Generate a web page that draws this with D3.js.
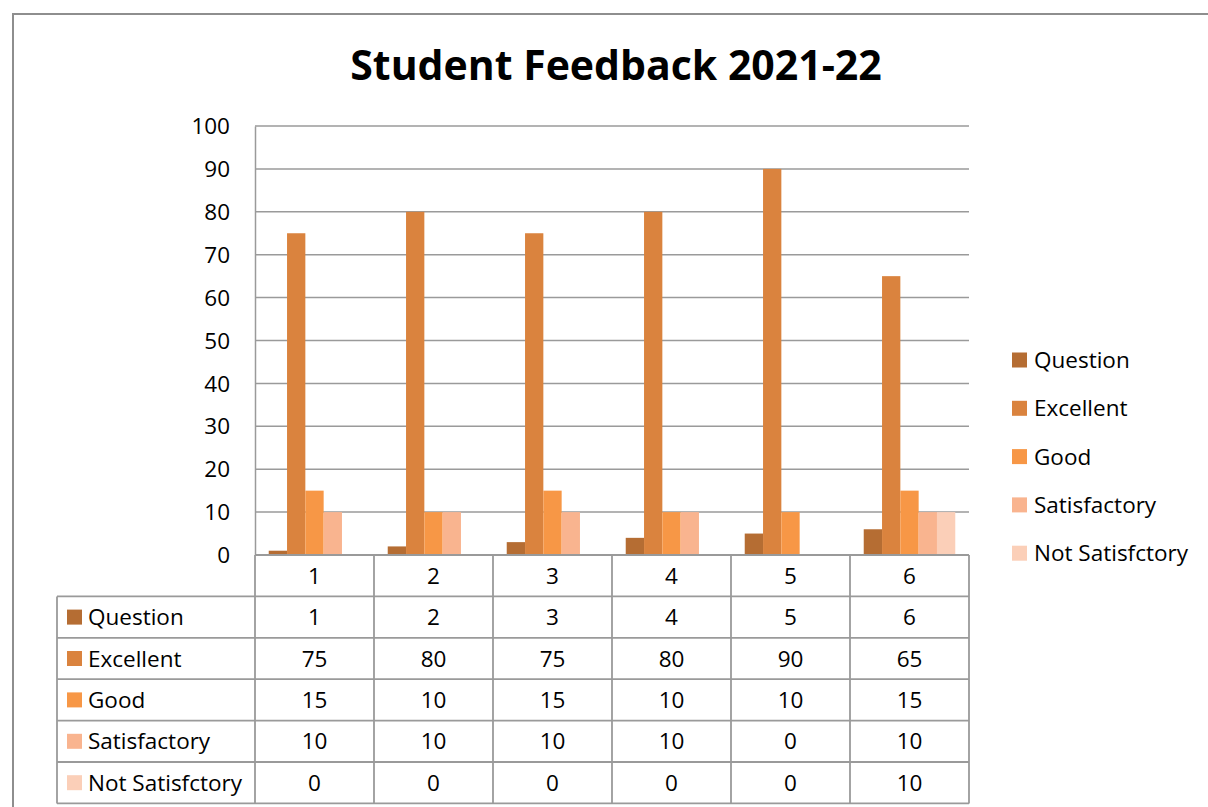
<!DOCTYPE html>
<html>
<head>
<meta charset="utf-8">
<script src="https://cdn.jsdelivr.net/npm/d3@7"></script>
<style>
  html, body { margin: 0; padding: 0; background: #fff; }
  svg { display: block; font-family: "Open Sans", Lato, sans-serif; }
</style>
</head>
<body>
<div id="chart"></div>
<script>
  // Datos del gráfico
  const categories = ['1', '2', '3', '4', '5', '6'];
  const seriesNames = ['Question', 'Excellent', 'Good', 'Satisfactory', 'Not Satisfctory'];
  const question = [1, 2, 3, 4, 5, 6];
  const excellent = [75, 80, 75, 80, 90, 65];
  const good = [15, 10, 15, 10, 10, 15];
  const satisfactory = [10, 10, 10, 10, 0, 10];
  const notSatisfactory = [0, 0, 0, 0, 0, 10];
  const yTicks = [0, 10, 20, 30, 40, 50, 60, 70, 80, 90, 100];
  const colors = ['#b56d33', '#da833e', '#f79746', '#f9b48f', '#fbcfb8'];

  const seriesValues = [question, excellent, good, satisfactory, notSatisfactory];

  const width = 1208, height = 807;
  const FONT = '"Open Sans", Lato, sans-serif';
  const svg = d3.select('#chart').append('svg')
    .attr('width', width).attr('height', height);

  // marco exterior
  svg.append('path')
    .attr('d', `M13,${height + 5} V14 H${width + 5}`)
    .attr('fill', 'none').attr('stroke', '#8e8e8e').attr('stroke-width', 2);

  // título
  svg.append('text')
    .attr('x', 616).attr('y', 80)
    .attr('text-anchor', 'middle')
    .attr('font-size', 41).attr('font-weight', 'bold')
    .attr('fill', '#000')
    .text('Student Feedback 2021-22');

  const plotLeft = 255, plotRight = 969, plotTop = 126, plotBottom = 555;
  const x = d3.scaleBand().domain(categories).range([plotLeft, plotRight]).padding(0);
  const xInner = d3.scaleBand().domain(seriesNames).range([0, x.bandwidth()])
    .paddingInner(0).paddingOuter(0.75);
  const y = d3.scaleLinear().domain([0, 100]).range([plotBottom, plotTop]);

  const lineColor = '#9a9a9a';
  const fs = 22.5;

  // rejilla
  svg.append('g').selectAll('line').data(yTicks.filter((t) => t > 0)).join('line')
    .attr('x1', plotLeft).attr('x2', plotRight)
    .attr('y1', (d) => y(d)).attr('y2', (d) => y(d))
    .attr('stroke', lineColor).attr('stroke-width', 1.5);

  // eje Y
  const yAxis = svg.append('g')
    .attr('transform', `translate(${plotLeft},0)`)
    .call(d3.axisLeft(y).tickValues(yTicks).tickSize(0).tickPadding(25));
  yAxis.select('.domain').attr('stroke', lineColor).attr('stroke-width', 1.5);
  yAxis.selectAll('text').attr('font-size', fs).attr('fill', '#000')
    .attr('font-family', FONT).attr('dy', '0.34em');

  // barras
  const groups = svg.append('g').selectAll('g').data(categories).join('g')
    .attr('transform', (d) => `translate(${x(d)},0)`);
  groups.selectAll('rect')
    .data((d, i) => seriesNames.map((s, k) => ({ s, k, v: seriesValues[k][i] })))
    .join('rect')
    .attr('x', (d) => xInner(d.s))
    .attr('width', xInner.bandwidth())
    .attr('y', (d) => y(d.v))
    .attr('height', (d) => y(0) - y(d.v))
    .attr('fill', (d) => colors[d.k]);

  // tabla de datos
  const tableLeft = 57;
  const rowH = 41.4;
  const tableTop = plotBottom;
  const nRows = seriesNames.length + 1;
  const table = svg.append('g');
  const tstroke = (sel) => sel.attr('stroke', lineColor).attr('stroke-width', 1.8);

  // líneas horizontales
  for (let r = 0; r <= nRows; r++) {
    const yy = tableTop + r * rowH;
    const x1 = r === 0 ? plotLeft : tableLeft;
    table.append('line').attr('x1', x1).attr('x2', plotRight)
      .attr('y1', yy).attr('y2', yy).call(tstroke);
  }
  // líneas verticales
  table.append('line').attr('x1', tableLeft).attr('x2', tableLeft)
    .attr('y1', tableTop + rowH).attr('y2', tableTop + nRows * rowH).call(tstroke);
  categories.forEach((c) => {
    table.append('line').attr('x1', x(c)).attr('x2', x(c))
      .attr('y1', tableTop).attr('y2', tableTop + nRows * rowH).call(tstroke);
  });
  table.append('line').attr('x1', plotRight).attr('x2', plotRight)
    .attr('y1', tableTop).attr('y2', tableTop + nRows * rowH).call(tstroke);

  // cabecera de categorías
  table.selectAll('text.cat').data(categories).join('text')
    .attr('class', 'cat')
    .attr('x', (d) => x(d) + x.bandwidth() / 2)
    .attr('y', tableTop + rowH / 2 + 8)
    .attr('text-anchor', 'middle').attr('font-size', fs).attr('fill', '#000')
    .text((d) => d);

  // filas de series
  seriesNames.forEach((s, k) => {
    const cy = tableTop + (k + 1) * rowH + rowH / 2;
    table.append('rect').attr('x', 67).attr('y', cy - 7.5)
      .attr('width', 15).attr('height', 15).attr('fill', colors[k]);
    table.append('text').attr('x', 88).attr('y', cy + 8)
      .attr('font-size', fs).attr('fill', '#000').text(s);
    categories.forEach((c, i) => {
      table.append('text')
        .attr('x', x(c) + x.bandwidth() / 2).attr('y', cy + 8)
        .attr('text-anchor', 'middle').attr('font-size', fs).attr('fill', '#000')
        .text(seriesValues[k][i]);
    });
  });

  // leyenda
  const legend = svg.append('g');
  seriesNames.forEach((s, k) => {
    const cy = 360 + k * 48.3;
    legend.append('rect').attr('x', 1012).attr('y', cy - 7.5)
      .attr('width', 15).attr('height', 15).attr('fill', colors[k]);
    legend.append('text').attr('x', 1034).attr('y', cy + 8)
      .attr('font-size', fs).attr('fill', '#000').text(s);
  });
</script>
</body>
</html>
